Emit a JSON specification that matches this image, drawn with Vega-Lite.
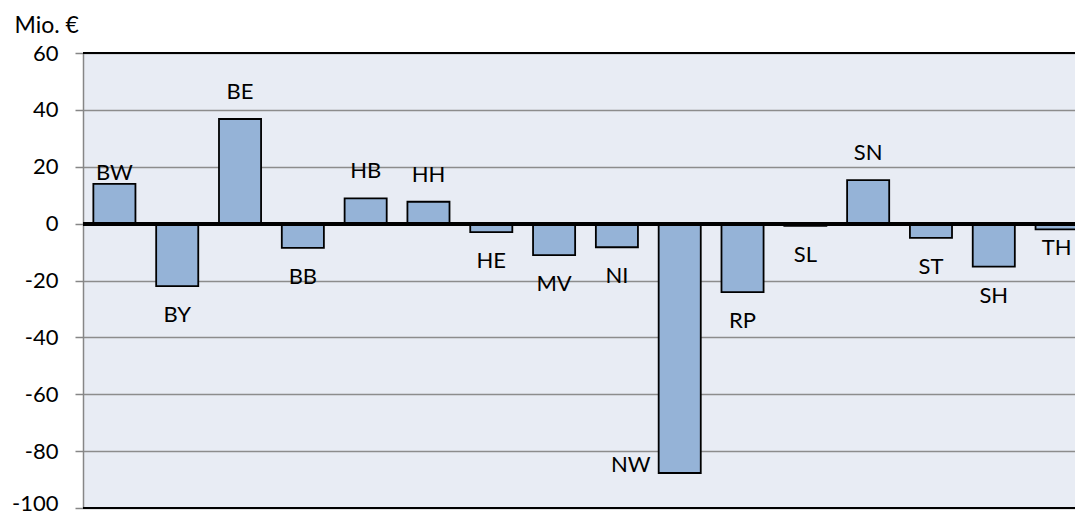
{
  "$schema": "https://vega.github.io/schema/vega-lite/v6.json",
  "width": 992,
  "height": 455,
  "autosize": "none",
  "padding": {"left": 83, "top": 53, "right": 0, "bottom": 7},
  "background": "white",
  "config": {"view": {"fill": "#E8ECF4", "stroke": null}, "font": "Lato"},
  "data": {"values": [
    {"region": "BW", "value": 14.0},
    {"region": "BY", "value": -22.0},
    {"region": "BE", "value": 36.8},
    {"region": "BB", "value": -8.5},
    {"region": "HB", "value": 8.9},
    {"region": "HH", "value": 7.7},
    {"region": "HE", "value": -3.0},
    {"region": "MV", "value": -11.1},
    {"region": "NI", "value": -8.3},
    {"region": "NW", "value": -87.7},
    {"region": "RP", "value": -24.1},
    {"region": "SL", "value": -0.8},
    {"region": "SN", "value": 15.3},
    {"region": "ST", "value": -5.0},
    {"region": "SH", "value": -15.1},
    {"region": "TH", "value": -2.0}
  ]},
  "encoding": {
    "x": {"field": "region", "type": "nominal", "sort": null,
      "scale": {"range": [0, 1005], "paddingInner": 0.33, "paddingOuter": 0.165},
      "axis": null},
    "y": {"field": "value", "type": "quantitative",
      "scale": {"domain": [-100, 60], "nice": false, "zero": false},
      "axis": {
        "values": [60, 40, 20, 0, -20, -40, -60, -80, -100],
        "labelExpr": "'' + datum.value",
        "labelOffset": {"condition": {"test": "datum.value == -100", "value": -5}, "value": 0},
        "labelFontSize": 22, "labelColor": "black", "labelFont": "Lato", "labelPadding": 17,
        "tickSize": 8, "tickColor": "#868686", "tickWidth": 1.5,
        "domainColor": "#868686", "domainWidth": 1.5,
        "grid": true, "gridColor": "#8c8c8c", "gridWidth": 1.5,
        "title": "Mio. €", "titleAngle": 0, "titleX": -69, "titleY": -28,
        "titleAlign": "left", "titleBaseline": "middle", "titleFontSize": 23,
        "titleFontWeight": "normal", "titleColor": "black", "titleFont": "Lato"
      }}
  },
  "layer": [
    {"mark": {"type": "bar", "fill": "#95B3D7", "stroke": "black", "strokeWidth": 1.8, "clip": true}},
    {"mark": {"type": "rule", "color": "black", "strokeWidth": 3.5}, "encoding": {"x": null, "y": {"datum": 0}}},
    {"mark": {"type": "rule", "color": "black", "strokeWidth": 2}, "encoding": {"x": null, "y": {"datum": 60}}},
    {"mark": {"type": "rule", "color": "black", "strokeWidth": 2}, "encoding": {"x": null, "y": {"datum": -100}}},
    {"transform": [{"filter": "datum.value > 0 && datum.region != 'BW'"}],
     "mark": {"type": "text", "baseline": "middle", "align": "center", "dy": -27, "fontSize": 22, "font": "Lato", "color": "black"},
     "encoding": {"text": {"field": "region"}}},
    {"transform": [{"filter": "datum.region == 'BW'"}],
     "mark": {"type": "text", "baseline": "middle", "align": "center", "dy": -11, "fontSize": 22, "font": "Lato", "color": "black"},
     "encoding": {"text": {"field": "region"}}},
    {"transform": [{"filter": "datum.value < 0 && datum.region != 'NW' && datum.region != 'TH'"}],
     "mark": {"type": "text", "baseline": "middle", "align": "center", "dy": 29, "fontSize": 22, "font": "Lato", "color": "black"},
     "encoding": {"text": {"field": "region"}}},
    {"transform": [{"filter": "datum.region == 'TH'"}],
     "mark": {"type": "text", "baseline": "middle", "align": "center", "dy": 19, "fontSize": 22, "font": "Lato", "color": "black"},
     "encoding": {"text": {"field": "region"}}},
    {"transform": [{"filter": "datum.region == 'NW'"}],
     "mark": {"type": "text", "baseline": "middle", "align": "center", "dx": -49, "dy": -8, "fontSize": 22, "font": "Lato", "color": "black"},
     "encoding": {"text": {"field": "region"}}}
  ]
}
